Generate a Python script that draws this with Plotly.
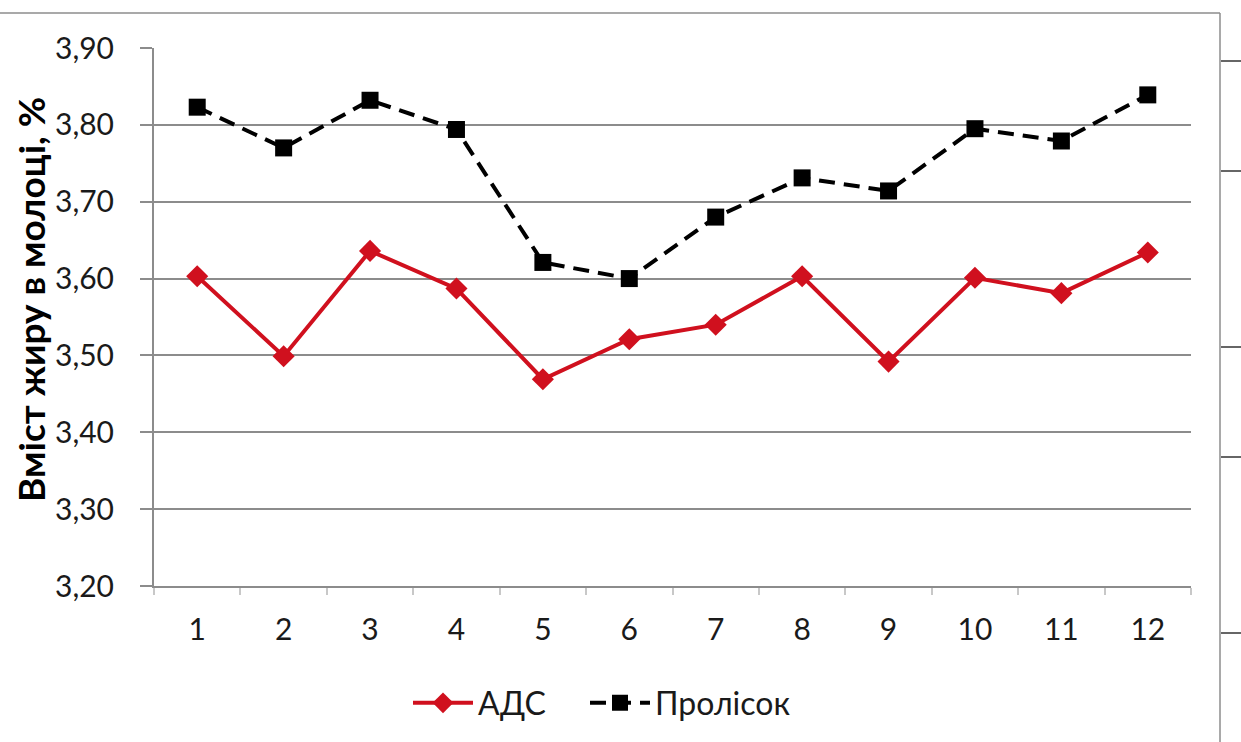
import plotly.graph_objects as go

months = ["1", "2", "3", "4", "5", "6", "7", "8", "9", "10", "11", "12"]
ads = [3.603, 3.499, 3.636, 3.587, 3.469, 3.521, 3.540, 3.603, 3.492, 3.601, 3.581, 3.634]
prolisok = [3.823, 3.770, 3.832, 3.794, 3.621, 3.600, 3.680, 3.731, 3.714, 3.795, 3.779, 3.839]
y_ticks = [3.2, 3.3, 3.4, 3.5, 3.6, 3.7, 3.8, 3.9]
y_tick_text = ["3,20", "3,30", "3,40", "3,50", "3,60", "3,70", "3,80", "3,90"]

W, H = 1241, 742
L, R, T, B = 154, 1191, 48, 586
pw, ph = R - L, B - T


def px(x):
    return (x - L) / pw


def py(y):
    return (B - y) / ph


FONT = "Lato"
RED = "#D0101E"

fig = go.Figure()
fig.add_trace(go.Scatter(
    x=months, y=ads, name="АДС", mode="lines+markers",
    line=dict(color=RED, width=4),
    marker=dict(symbol="diamond", size=17, color=RED),
    legend="legend",
))
fig.add_trace(go.Scatter(
    x=months, y=prolisok, name="Пролісок", mode="lines+markers",
    line=dict(color="black", width=4, dash="16px,9px"),
    marker=dict(symbol="square", size=17, color="black"),
    legend="legend2",
))

shapes = [
    dict(type="line", xref="paper", yref="paper", x0=px(0), x1=px(1220), y0=py(13), y1=py(13),
         line=dict(color="#8c8c8c", width=1.5)),
    dict(type="line", xref="paper", yref="paper", x0=px(1220), x1=px(1220), y0=py(13), y1=py(742),
         line=dict(color="#8c8c8c", width=1.5)),
]
for yy in [61, 171, 347, 457, 633]:
    shapes.append(dict(type="line", xref="paper", yref="paper", x0=px(1221), x1=px(1241),
                       y0=py(yy), y1=py(yy), line=dict(color="#333333", width=1.5)))

legend_common = dict(orientation="h", xanchor="left", y=py(703), yanchor="middle",
                     font=dict(family=FONT, size=32, color="#1a1a1a"), itemwidth=60,
                     bgcolor="rgba(0,0,0,0)")

fig.update_layout(
    width=W, height=H,
    margin=dict(l=L, r=W - R, t=T, b=H - B),
    paper_bgcolor="white", plot_bgcolor="white",
    font=dict(family=FONT, size=30, color="#1a1a1a"),
    shapes=shapes,
    showlegend=True,
    legend=dict(x=px(408), **legend_common),
    legend2=dict(x=px(585), **legend_common),
    annotations=[dict(text="<b>Вміст жиру в молоці, %</b>", xref="paper", yref="paper",
                      x=px(30), y=py(300), textangle=-90, showarrow=False,
                      xanchor="center", yanchor="middle",
                      font=dict(family=FONT, size=37, color="black"))],
)
fig.update_xaxes(
    type="category", range=[-0.5, 11.5],
    showline=True, linecolor="#8c8c8c", linewidth=2,
    ticks="outside", tickson="boundaries", ticklen=7, tickcolor="#c8c8c8", tickwidth=1.5,
    showgrid=False, ticklabelstandoff=16,
    tickfont=dict(family=FONT, size=30, color="#1a1a1a"),
)
fig.update_yaxes(
    range=[3.2, 3.9], tickvals=y_ticks, ticktext=y_tick_text,
    showline=True, linecolor="#8c8c8c", linewidth=2,
    ticks="outside", ticklen=12, tickcolor="#8c8c8c", tickwidth=2,
    showgrid=True, gridcolor="#8c8c8c", gridwidth=1.5, zeroline=False,
    ticklabelstandoff=20,
    tickfont=dict(family=FONT, size=30, color="#1a1a1a"),
)

fig.write_html("out.html")
